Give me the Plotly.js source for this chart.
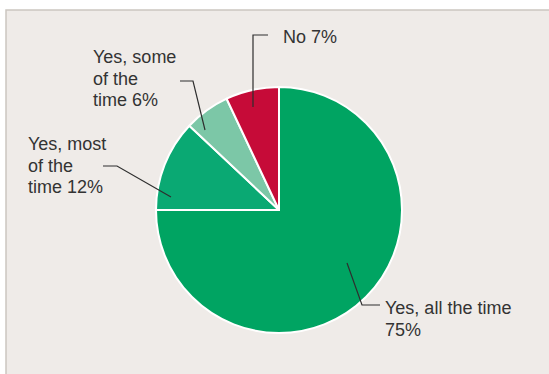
<!DOCTYPE html>
<html>
<head>
<meta charset="utf-8">
<script src="https://cdn.plot.ly/plotly-3.0.1.min.js"></script>
<style>html,body{margin:0;padding:0;background:#fff;}#chart{width:549px;height:374px;}</style>
</head>
<body>
<div id="chart"></div>
<script>
// Data
var categories = ["Yes, all the time", "Yes, most of the time", "Yes, some of the time", "No"];
var values = [75, 12, 6, 7];
var labelTexts = ["Yes, all the time<br>75%", "Yes, most<br>of the<br>time 12%", "Yes, some<br>of the<br>time 6%", "No 7%"];
var colors = ["#00a462", "#0aa973", "#7cc7a7", "#c60b38"];

// Layout helpers (pixel -> paper)
var W = 549, H = 374;
function px(x){ return x / W; }
function py(y){ return 1 - y / H; }

var cx = 279, cy = 210, R = 123;
var lineGap = 21.5;

// label placement (pixels): first-line centre and leader path
var labelPos = [
  {tx: 383, ty: 308, path: [[347,263],[362,305],[380,305]]},
  {tx: 26,  ty: 144, path: [[171,197],[117,166],[103,166]]},
  {tx: 91,  ty: 57,  path: [[205,130],[193,81],[180,81]]},
  {tx: 281, ty: 37,  path: [[253,107],[253,35],[268,35]]}
];

var shapes = [{
  type: "rect", xref: "paper", yref: "paper", layer: "below",
  x0: px(6), x1: px(560), y0: py(10), y1: py(400),
  fillcolor: "#efebe8", line: {color: "#cbc6c0", width: 1.5}
}];
var annotations = [];
labelPos.forEach(function(lp, i){
  var d = lp.path.map(function(p, j){ return (j ? "L" : "M") + px(p[0]) + "," + py(p[1]); }).join(" ");
  shapes.push({type: "path", xref: "paper", yref: "paper", path: d, line: {color: "#2e2e2e", width: 1.2}, layer: "above"});
  labelTexts[i].split("<br>").forEach(function(line, k){
    annotations.push({
      xref: "paper", yref: "paper", x: px(lp.tx), y: py(lp.ty + k * lineGap),
      xanchor: "left", yanchor: "middle", align: "left", showarrow: false,
      text: line, font: {family: "Liberation Sans, Arial, sans-serif", size: 18, color: "#333333"}
    });
  });
});

var trace = {
  type: "pie",
  labels: categories,
  values: values,
  sort: false,
  direction: "clockwise",
  rotation: 0,
  textinfo: "none",
  hoverinfo: "label+percent",
  marker: {colors: colors, line: {color: "#ffffff", width: 2}},
  domain: {x: [px(cx - R), px(cx + R)], y: [py(cy + R), py(cy - R)]}
};

var layout = {
  width: W, height: H,
  margin: {l: 0, r: 0, t: 0, b: 0},
  paper_bgcolor: "#ffffff",
  showlegend: false,
  shapes: shapes,
  annotations: annotations
};

Plotly.newPlot("chart", [trace], layout, {displayModeBar: false, staticPlot: true});
</script>
</body>
</html>
